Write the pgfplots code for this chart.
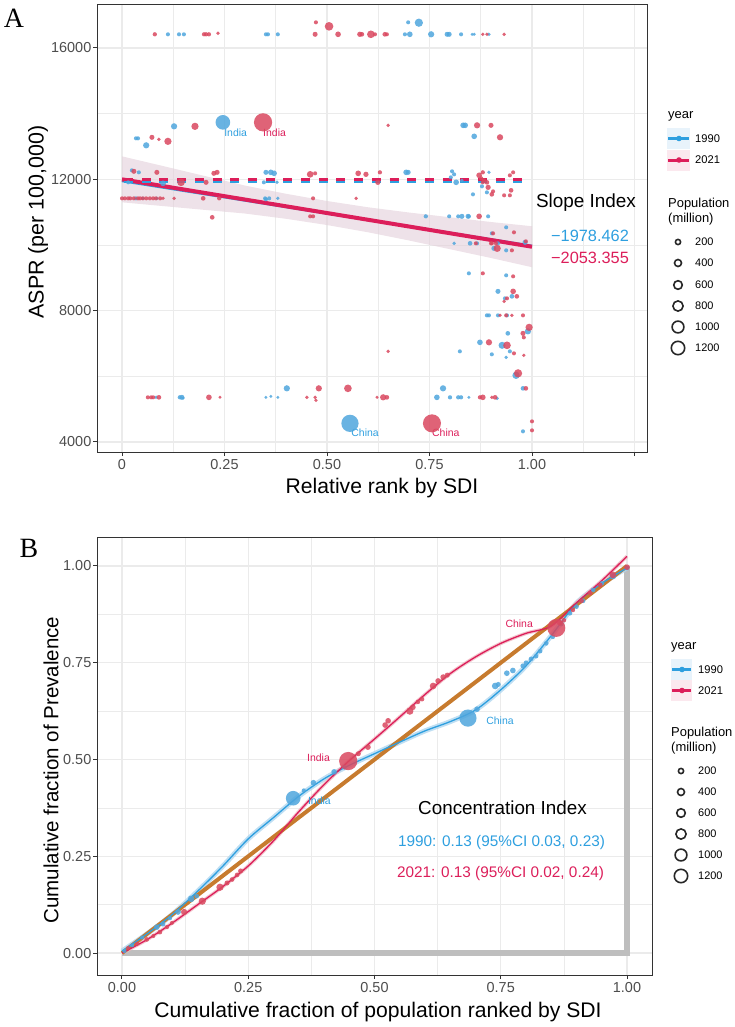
\documentclass[border=0pt]{standalone}
\usepackage{pgfplots}
\pgfplotsset{compat=1.18}
\usepackage{pgfplotstable}
\usepackage{fontspec}
\setmainfont{Liberation Sans}
\newfontfamily\seriffont{Liberation Serif}
\definecolor{cblue}{HTML}{2E9FDF}
\definecolor{cred}{HTML}{DC1E5A}
\definecolor{pblue}{HTML}{4FA6DD}
\definecolor{pred}{HTML}{D9485F}
\definecolor{gridc}{HTML}{EBEBEB}
\definecolor{framec}{HTML}{333333}
\definecolor{tickc}{HTML}{4D4D4D}
\definecolor{bandc}{HTML}{E3CFDA}
\definecolor{orangec}{HTML}{C77B2E}
\definecolor{grayl}{HTML}{BEBEBE}
\definecolor{keyblue}{HTML}{E8F3FB}
\definecolor{keyred}{HTML}{FBE8EE}
\newcommand{\fs}[1]{\fontsize{#1}{#1}\selectfont}

\pgfplotstableread[row sep=\\]{
x y s\\
0.112 16417 1.7\\ 0.139 16417 1.7\\ 0.151 16417 1.7\\ 0.351 16417 1.7\\ 0.356 16417 1.7\\
0.380 16417 1.7\\ 0.690 16417 1.7\\ 0.702 16417 2.5\\ 0.754 16417 2.8\\ 0.793 16417 2.2\\
0.798 16417 2.2\\ 0.827 16417 1.7\\ 0.854 16417 1.3\\ 0.859 16417 1.3\\ 0.895 16417 1.5\\
0.698 16782 1.7\\ 0.724 16770 3.8\\
0.034 13249 1.7\\ 0.039 13249 1.7\\ 0.059 13036 2.8\\ 0.127 13614 2.8\\ 0.246 13736 7.0\\
0.832 13645 2.5\\ 0.837 13645 2.5\\ 0.859 13310 2.5\\
0.015 11909 1.7\\ 0.024 12274 1.7\\ 0.041 12213 1.7\\ 0.100 11878 2.5\\ 0.346 11909 1.7\\
0.351 12213 2.2\\ 0.363 12213 2.5\\ 0.371 12183 2.5\\ 0.378 11909 1.5\\ 0.693 12213 2.5\\
0.698 12213 2.2\\ 0.802 12061 1.7\\ 0.805 12244 1.7\\ 0.810 12152 1.7\\ 0.815 11909 2.5\\
0.829 11970 1.5\\ 0.856 11543 1.7\\ 0.878 11787 1.7\\ 0.890 11604 1.7\\ 0.895 12213 1.5\\
0.034 11421 1.7\\ 0.051 11421 1.5\\ 0.085 11421 1.5\\ 0.349 11421 1.7\\ 0.351 11391 1.7\\
0.359 11421 1.7\\ 0.380 11421 1.5\\
0.741 10873 1.8\\ 0.798 10873 1.7\\ 0.820 10873 1.7\\ 0.829 10873 2.2\\ 0.844 10873 2.2\\
0.846 10873 1.7\\ 0.893 10873 1.7\\ 0.937 10538 1.7\\ 0.902 10355 1.7\\
0.810 10051 1.5\\ 0.849 10051 2.0\\ 0.866 10051 1.7\\ 0.917 10051 1.7\\ 0.907 9898 2.2\\
0.937 9837 1.7\\ 0.983 10081 2.2\\ 0.846 9137 1.7\\ 0.937 9076 1.7\\ 0.917 8588 2.2\\
0.951 8436 2.0\\ 0.934 8375 1.7\\ 0.890 7857 1.7\\ 0.895 7857 1.7\\ 0.917 7857 1.7\\
0.939 7857 1.7\\ 0.990 7370 2.8\\ 0.941 7309 2.0\\ 0.873 7035 2.5\\ 0.927 6944 3.2\\
0.946 6761 1.7\\ 0.824 6761 1.7\\ 0.902 6670 1.7\\ 0.937 6578 1.5\\ 0.961 6030 3.3\\
0.978 5634 2.0\\ 0.768 5360 2.5\\ 0.800 5360 1.8\\ 0.820 5360 1.8\\ 0.827 5360 1.8\\
0.846 5360 1.3\\ 0.915 5330 1.5\\ 0.083 5360 1.5\\ 0.141 5360 1.8\\ 0.146 5360 2.2\\
0.149 5340 1.5\\ 0.351 5360 1.3\\ 0.363 5390 1.3\\ 0.380 5360 1.3\\ 0.783 5634 2.8\\
0.402 5634 2.8\\ 0.556 4568 8.3\\ 0.978 4325 1.7\\
}\ablue

\pgfplotstableread[row sep=\\]{
x y s\\
0.080 16417 1.8\\ 0.200 16417 1.8\\ 0.205 16417 1.8\\ 0.212 16417 1.8\\ 0.234 16450 1.5\\
0.471 16417 2.2\\ 0.473 16782 1.7\\ 0.505 16660 4.0\\ 0.527 16417 2.5\\ 0.580 16417 2.3\\
0.585 16417 2.0\\ 0.607 16417 3.5\\ 0.617 16417 1.7\\ 0.641 16417 2.0\\ 0.646 16417 1.7\\
0.880 16417 1.5\\ 0.890 16417 1.5\\ 0.932 16417 1.5\\
0.073 13279 2.2\\ 0.090 13218 1.5\\ 0.112 13157 3.3\\ 0.178 13614 3.3\\ 0.344 13736 8.8\\
0.649 13645 1.5\\ 0.866 13645 2.8\\ 0.900 13645 2.2\\ 0.922 13280 2.8\\
0.029 12244 2.2\\ 0.085 12213 2.2\\ 0.144 11909 3.5\\ 0.205 11909 2.2\\ 0.224 12183 2.2\\
0.232 12213 2.2\\ 0.459 12152 3.0\\ 0.471 12183 1.7\\ 0.576 12183 2.5\\ 0.595 12152 2.3\\
0.629 12213 1.8\\ 0.624 11909 2.3\\ 0.871 12122 2.5\\ 0.876 12030 1.8\\ 0.880 12213 1.8\\
0.883 11970 1.8\\ 0.890 11909 2.0\\ 0.880 11909 1.7\\ 0.893 11756 2.3\\ 0.902 11543 2.0\\
0.905 11634 1.7\\ 0.932 11513 1.7\\ 0.946 11513 1.7\\ 0.949 11665 2.0\\ 0.946 12122 1.7\\
0.954 12213 1.7\\
0.000 11421 1.7\\ 0.007 11421 1.7\\ 0.015 11421 1.7\\ 0.020 11421 1.7\\ 0.029 11421 1.7\\
0.039 11421 1.7\\ 0.044 11421 1.7\\ 0.051 11421 1.7\\ 0.059 11421 1.7\\ 0.068 11421 1.7\\
0.076 11421 1.7\\ 0.083 11421 1.7\\ 0.093 11421 1.7\\ 0.100 11421 1.5\\ 0.127 11421 1.5\\
0.198 11421 2.0\\ 0.237 11421 1.8\\ 0.466 11421 1.7\\ 0.571 11421 1.5\\ 0.220 10843 2.0\\
0.459 10873 1.7\\ 0.466 10873 1.7\\ 0.871 10873 2.5\\ 0.956 10386 1.7\\ 0.905 10355 1.7\\
0.863 10051 1.7\\ 0.900 10051 1.7\\ 0.902 10051 1.7\\ 0.912 10051 1.7\\ 0.915 9898 3.3\\
0.951 9837 1.7\\ 0.985 10112 1.7\\ 0.880 9137 1.7\\ 0.954 9045 1.7\\ 0.954 8588 2.5\\
0.963 8436 2.0\\ 0.939 8375 1.7\\ 0.932 8284 1.5\\ 0.922 7857 1.5\\ 0.937 7857 1.7\\
0.951 7857 1.5\\ 0.978 7857 1.7\\ 0.993 7492 3.3\\ 0.978 7309 2.2\\ 0.980 7187 1.7\\
0.895 7035 2.8\\ 0.939 6944 3.5\\ 0.956 6700 1.7\\ 0.980 6639 1.5\\ 0.649 6761 1.5\\
0.966 6091 3.8\\ 0.985 5634 2.0\\ 0.063 5360 1.7\\ 0.071 5360 1.7\\ 0.076 5360 1.7\\
0.090 5360 2.0\\ 0.212 5360 2.5\\ 0.239 5360 1.3\\ 0.451 5360 1.5\\ 0.471 5360 1.5\\
0.473 5269 1.5\\ 0.622 5360 1.3\\ 0.637 5360 2.8\\ 0.646 5360 2.0\\ 0.873 5360 1.8\\
0.880 5360 2.5\\ 0.902 5360 1.5\\ 0.910 5360 2.0\\ 0.480 5634 2.8\\ 0.551 5634 3.5\\
0.756 4568 8.7\\ 1.000 4629 1.7\\ 1.000 4355 1.7\\
}\ared

\pgfplotstableread[row sep=\\]{
x y s\\
0.005 0.005 1.7\\ 0.020 0.020 1.7\\ 0.040 0.040 1.7\\ 0.069 0.067 2.5\\ 0.081 0.075 2.2\\
0.095 0.090 1.8\\ 0.111 0.106 2.5\\ 0.137 0.140 3.0\\ 0.148 0.147 2.0\\ 0.339 0.400 7.0\\
0.360 0.420 1.8\\ 0.379 0.440 2.5\\ 0.420 0.468 2.5\\ 0.440 0.480 2.0\\ 0.685 0.607 8.3\\
0.703 0.630 2.5\\ 0.739 0.690 3.0\\ 0.745 0.694 2.2\\ 0.762 0.723 2.5\\ 0.774 0.730 2.5\\
0.794 0.742 2.2\\ 0.800 0.750 2.0\\ 0.810 0.760 2.0\\ 0.820 0.767 2.0\\ 0.828 0.780 2.0\\
0.840 0.800 2.0\\ 0.853 0.817 2.0\\ 0.870 0.850 2.0\\ 0.887 0.878 2.0\\ 0.900 0.895 2.0\\
0.913 0.910 2.0\\ 0.933 0.938 2.0\\ 0.950 0.955 2.0\\ 0.972 0.974 3.0\\ 1.000 0.995 2.0\\
}\bblue

\pgfplotstableread[row sep=\\]{
x y s\\
0.012 0.013 1.7\\ 0.030 0.024 1.8\\ 0.049 0.035 2.0\\ 0.062 0.044 1.7\\ 0.075 0.054 2.0\\
0.089 0.067 1.8\\ 0.099 0.078 1.7\\ 0.123 0.106 2.8\\ 0.159 0.134 3.3\\ 0.194 0.170 3.3\\
0.208 0.181 2.2\\ 0.218 0.190 2.0\\ 0.228 0.202 2.0\\ 0.235 0.212 2.2\\ 0.448 0.496 8.8\\
0.468 0.515 2.2\\ 0.487 0.532 2.5\\ 0.521 0.589 2.5\\ 0.527 0.600 2.5\\ 0.570 0.625 3.3\\
0.576 0.635 2.5\\ 0.586 0.649 2.0\\ 0.594 0.656 2.0\\ 0.616 0.690 3.0\\ 0.626 0.703 2.5\\
0.636 0.713 2.5\\ 0.644 0.718 2.2\\ 0.860 0.840 8.7\\ 0.867 0.853 2.5\\ 0.875 0.860 2.0\\
0.893 0.886 1.8\\ 0.910 0.910 2.0\\ 0.927 0.930 2.0\\ 0.947 0.951 2.0\\ 0.972 0.977 3.0\\
1.000 0.997 2.5\\
}\bred

\pgfplotsset{
  ggbase/.style={
    scale only axis, anchor=south west,
    grid=both,
    major grid style={draw=gridc, line width=1.3bp},
    minor grid style={draw=gridc, line width=0.7bp},
    axis line style={draw=framec, line width=1bp},
    every tick/.style={draw=framec, line width=1bp},
    tick align=outside, major tick length=4bp, minor tick length=0bp,
    tick pos=left,
    scaled ticks=false,
    ticklabel style={font=\fs{14.5}, text=tickc},
    xticklabel style={inner sep=3.5bp},
    yticklabel style={inner sep=1.5bp},
  },
  bubbles/.style={
    scatter, only marks, mark=*,
    scatter/use mapped color={draw=#1, draw opacity=0, fill=#1, fill opacity=0.85},
    visualization depends on={\thisrow{s}\as\psize},
    scatter/@pre marker code/.append style={/tikz/mark size=0.35+\psize},
  },
}

\begin{document}
\begin{tikzpicture}
\path[use as bounding box] (0,0) rectangle (735bp,-1027bp);

% ---------------- Panel A ----------------
\begin{axis}[ggbase, at={(97bp,-452bp)}, width=550bp, height=448bp,
  xmin=-0.061, xmax=1.2805, ymin=3695, ymax=17340,
  xtick={0,0.25,0.5,0.75,1,1.25}, xticklabels={0,0.25,0.50,0.75,1.00,{}},
  minor xtick={0.125,0.375,0.625,0.875,1.125},
  ytick={4000,8000,12000,16000}, yticklabels={4000,8000,12000,16000},
  minor ytick={6000,10000,14000},
]
\addplot[bubbles=pblue] table[x=x,y=y] {\ablue};
\addplot[bubbles=pred] table[x=x,y=y] {\ared};
\addplot[fill=bandc, fill opacity=0.6, draw=none] coordinates {
 (0,12700) (0.1,12405) (0.2,12107) (0.3,11810) (0.4,11560) (0.5,11340) (0.6,11149) (0.7,10989) (0.8,10845) (0.9,10700) (1.0,10571)
 (1.0,9323) (0.9,9604) (0.8,9871) (0.7,10137) (0.6,10387) (0.5,10608) (0.4,10798) (0.3,10958) (0.2,11071) (0.1,11185) (0,11300)} -- cycle;
\addplot[cblue, line width=2.5bp] coordinates {(0,11950) (1,9972)};
\addplot[cred, line width=4bp] coordinates {(0,12000) (1,9947)};
\addplot[cblue, line width=3bp, dash pattern=on 9bp off 8.7bp] coordinates {(0.005,11940) (0.99,11940)};
\addplot[cred, line width=3bp, dash pattern=on 9bp off 8.7bp] coordinates {(0.005,12000) (0.99,12000)};
\node[anchor=west, inner sep=0pt, text=cblue, font=\fs{10.5}] at (axis cs:0.249,13432) {India};
\node[anchor=west, inner sep=0pt, text=cred, font=\fs{10.5}] at (axis cs:0.344,13432) {India};
\node[anchor=west, inner sep=0pt, text=cblue, font=\fs{10.5}] at (axis cs:0.559,4294) {China};
\node[anchor=west, inner sep=0pt, text=cred, font=\fs{10.5}] at (axis cs:0.756,4294) {China};
\end{axis}

\node[font=\fs{19}] at (586bp,-203bp) {Slope Index};
\node[font=\fs{16.4}, text=cblue] at (590bp,-236bp) {−1978.462};
\node[font=\fs{16.4}, text=cred] at (590bp,-258bp) {−2053.355};

\node[font=\fs{21.2}] at (382bp,-488bp) {Relative rank by SDI};
\node[font=\fs{21.5}, rotate=90] at (38bp,-222bp) {ASPR (per 100,000)};
\node[font=\seriffont\fs{28}] at (14bp,-18bp) {A};

% legend A
\node[anchor=west, inner sep=0pt, font=\fs{13}] at (668bp,-116bp) {year};
\fill[keyblue] (667bp,-128bp) rectangle (690bp,-149bp);
\fill[keyred] (667bp,-150bp) rectangle (690bp,-171bp);
\draw[cblue, line width=3bp] (668bp,-138.5bp) -- (689bp,-138.5bp);
\fill[cblue] (679bp,-138.5bp) circle (2.8bp);
\draw[cred, line width=3bp] (668bp,-160bp) -- (689bp,-160bp);
\fill[cred] (679bp,-160bp) circle (2.8bp);
\node[anchor=west, inner sep=0pt, font=\fs{11.2}] at (695bp,-138.5bp) {1990};
\node[anchor=west, inner sep=0pt, font=\fs{11.2}] at (695bp,-160bp) {2021};
\node[anchor=west, inner sep=0pt, font=\fs{13}] at (668bp,-204bp) {Population};
\node[anchor=west, inner sep=0pt, font=\fs{13}] at (668bp,-219bp) {(million)};
\foreach \yy/\rr/\lab in {242/2.6/200, 263/3.5/400, 285/4.3/600, 306/5.1/800, 327/5.9/1000, 348/6.7/1200}{
  \draw[black!85, line width=1.6bp] (678bp,-\yy bp) circle (\rr bp);
  \node[anchor=west, inner sep=0pt, font=\fs{11}] at (695bp,-\yy bp) {\lab};
}

% ---------------- Panel B ----------------
\begin{axis}[ggbase, at={(97bp,-975bp)}, width=555bp, height=438bp,
  xmin=-0.0495, xmax=1.0495, ymin=-0.0568, ymax=1.0749,
  xtick={0,0.25,0.5,0.75,1}, xticklabels={0.00,0.25,0.50,0.75,1.00},
  minor xtick={0.125,0.375,0.625,0.875},
  ytick={0,0.25,0.5,0.75,1}, yticklabels={0.00,0.25,0.50,0.75,1.00},
  minor ytick={0.125,0.375,0.625,0.875},
]
\addplot[grayl, line width=5.5bp] coordinates {(0,0) (1,0) (1,1)};
\addplot[pblue!45, line width=5bp, smooth, opacity=0.8] coordinates {
 (0,0.005) (0.05,0.05) (0.1,0.1) (0.15,0.16) (0.2,0.225) (0.25,0.295) (0.3,0.35) (0.35,0.405) (0.4,0.45) (0.45,0.485) (0.5,0.515) (0.55,0.545) (0.6,0.574) (0.65,0.598) (0.7,0.628) (0.75,0.68) (0.8,0.742) (0.85,0.82) (0.9,0.904) (0.95,0.955) (1.0,0.995)};
\addplot[pred!40, line width=3.5bp, smooth, opacity=0.8] coordinates {
 (0,0) (0.05,0.035) (0.1,0.078) (0.15,0.125) (0.2,0.172) (0.25,0.225) (0.3,0.29) (0.35,0.365) (0.4,0.435) (0.45,0.497) (0.5,0.553) (0.55,0.61) (0.6,0.668) (0.65,0.722) (0.7,0.765) (0.75,0.8) (0.8,0.826) (0.85,0.845) (0.9,0.905) (0.95,0.962) (1.0,1.025)};
\addplot[orangec, line width=4bp] coordinates {(0,0) (1,1)};
\addplot[cblue, line width=1.3bp, smooth] coordinates {
 (0,0.005) (0.05,0.05) (0.1,0.1) (0.15,0.16) (0.2,0.225) (0.25,0.295) (0.3,0.35) (0.35,0.405) (0.4,0.45) (0.45,0.485) (0.5,0.515) (0.55,0.545) (0.6,0.574) (0.65,0.598) (0.7,0.628) (0.75,0.68) (0.8,0.742) (0.85,0.82) (0.9,0.904) (0.95,0.955) (1.0,0.995)};
\addplot[cred, line width=1.3bp, smooth] coordinates {
 (0,0) (0.05,0.035) (0.1,0.078) (0.15,0.125) (0.2,0.172) (0.25,0.225) (0.3,0.29) (0.35,0.365) (0.4,0.435) (0.45,0.497) (0.5,0.553) (0.55,0.61) (0.6,0.668) (0.65,0.722) (0.7,0.765) (0.75,0.8) (0.8,0.826) (0.85,0.845) (0.9,0.905) (0.95,0.962) (1.0,1.025)};
\addplot[bubbles=pblue] table[x=x,y=y] {\bblue};
\addplot[bubbles=pred] table[x=x,y=y] {\bred};
\node[anchor=east, inner sep=0pt, text=cred, font=\fs{10.5}] at (axis cs:0.814,0.850) {China};
\node[anchor=west, inner sep=0pt, text=cblue, font=\fs{10.5}] at (axis cs:0.721,0.599) {China};
\node[anchor=east, inner sep=0pt, text=cred, font=\fs{10.5}] at (axis cs:0.412,0.504) {India};
\node[anchor=west, inner sep=0pt, text=cblue, font=\fs{10.5}] at (axis cs:0.368,0.393) {India};
\end{axis}

\node[font=\fs{18.9}] at (502.5bp,-808bp) {Concentration Index};
\node[font=\fs{15.4}, text=cblue] at (501.5bp,-843bp) {1990: 0.13 (95\%CI 0.03, 0.23)};
\node[font=\fs{15.4}, text=cred] at (500.5bp,-874bp) {2021: 0.13 (95\%CI 0.02, 0.24)};

\node[font=\fs{21.2}] at (378bp,-1012bp) {Cumulative fraction of population ranked by SDI};
\node[font=\fs{20.6}, rotate=90] at (51bp,-770bp) {Cumulative fraction of Prevalence};
\node[font=\seriffont\fs{28}] at (29bp,-548bp) {B};

% legend B
\node[anchor=west, inner sep=0pt, font=\fs{13}] at (671bp,-647bp) {year};
\fill[keyblue] (671bp,-659bp) rectangle (692bp,-680bp);
\fill[keyred] (671bp,-680bp) rectangle (692bp,-701bp);
\draw[cblue, line width=3bp] (672bp,-669.5bp) -- (691bp,-669.5bp);
\fill[cblue] (682bp,-669.5bp) circle (2.8bp);
\draw[cred, line width=3bp] (672bp,-690.5bp) -- (691bp,-690.5bp);
\fill[cred] (682bp,-690.5bp) circle (2.8bp);
\node[anchor=west, inner sep=0pt, font=\fs{11.2}] at (698bp,-669.5bp) {1990};
\node[anchor=west, inner sep=0pt, font=\fs{11.2}] at (698bp,-690.5bp) {2021};
\node[anchor=west, inner sep=0pt, font=\fs{13}] at (671bp,-733bp) {Population};
\node[anchor=west, inner sep=0pt, font=\fs{13}] at (671bp,-748bp) {(million)};
\foreach \yy/\rr/\lab in {771/2.6/200, 792/3.5/400, 813/4.3/600, 834/5.1/800, 855/5.9/1000, 876/6.7/1200}{
  \draw[black!85, line width=1.6bp] (681bp,-\yy bp) circle (\rr bp);
  \node[anchor=west, inner sep=0pt, font=\fs{11}] at (698bp,-\yy bp) {\lab};
}
\end{tikzpicture}
\end{document}
